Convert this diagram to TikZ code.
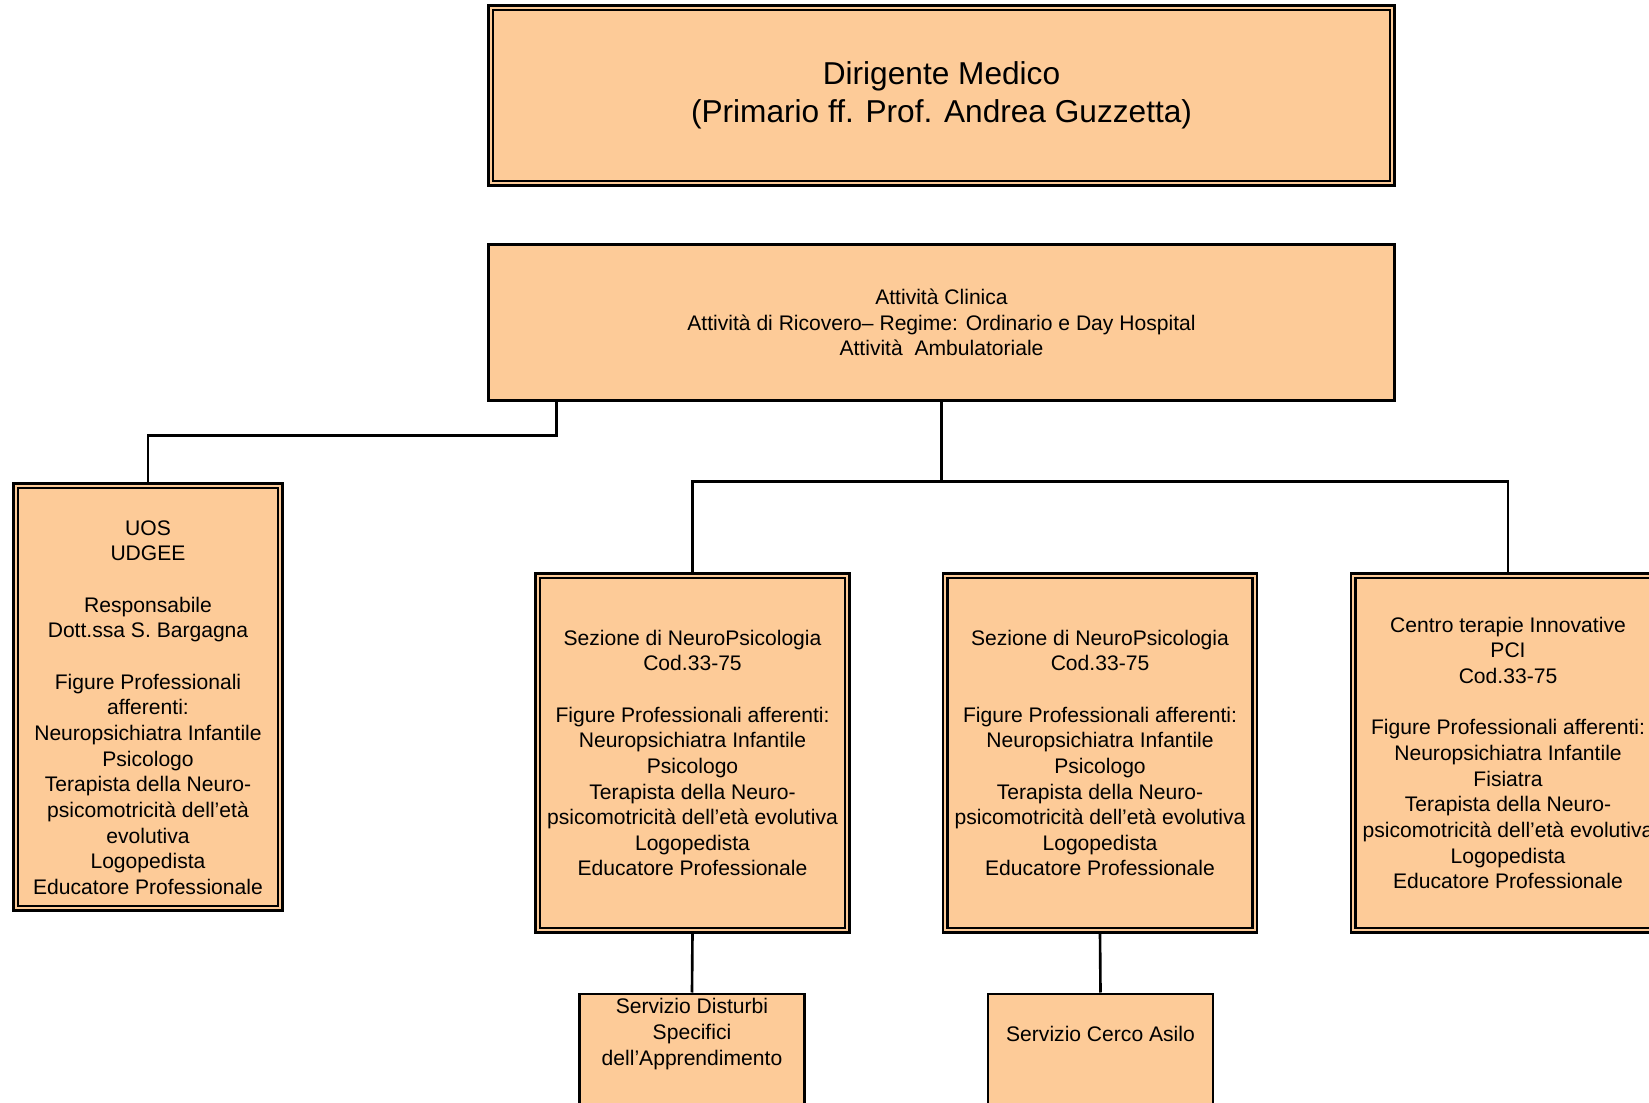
\documentclass[tikz,border=0pt]{standalone}
\usepackage{fontspec}
\setmainfont{Liberation Sans}
\usetikzlibrary{positioning}
\definecolor{peach}{RGB}{253,203,152}
\begin{document}
\begin{tikzpicture}[
    txt/.style={align=center, font=\fontsize{12}{14.6}\selectfont, inner sep=0pt},
    box/.style={draw, line width=1.6pt, fill=peach, inner sep=0pt},
    dbox/.style={draw, line width=1.5pt, double=peach, double distance=1.2pt, fill=peach, inner sep=0pt},
    link/.style={line width=1.5pt}
  ]
  \path[use as bounding box] (0, 0) rectangle (32.98, 22.04);
  \clip (0, 0) rectangle (32.98, 22.04);

  \node[dbox, minimum width=18.03cm, minimum height=3.51cm, align=center, font=\fontsize{18}{21.6}\selectfont] (dirigente) at (18.83, 20.13) {Dirigente Medico\\(Primario ff. Prof. Andrea Guzzetta)};
  \node[box, txt, minimum width=18.12cm, minimum height=3.12cm] (clinica) at (18.83, 15.59) {Attività Clinica\\Attività di Ricovero– Regime: Ordinario e Day Hospital\\Attività~ Ambulatoriale};

  \node[dbox, minimum width=5.29cm, minimum height=8.45cm] (uos) at (2.96, 8.10) {};
  \node[txt] (uos-txt) at (2.96, 7.89) {UOS\\UDGEE\\[14.6pt]Responsabile\\Dott.ssa S. Bargagna\\[14.6pt]Figure Professionali\\afferenti:\\Neuropsichiatra Infantile\\Psicologo\\Terapista della Neuro-\\psicomotricità dell’età\\evolutiva\\Logopedista\\Educatore Professionale};

  \node[dbox, txt, minimum width=6.19cm, minimum height=7.09cm] (sez-a) at (13.85, 6.98) {Sezione di NeuroPsicologia\\Cod.33-75\\[14.6pt]Figure Professionali afferenti:\\Neuropsichiatra Infantile\\Psicologo\\Terapista della Neuro-\\psicomotricità dell’età evolutiva\\Logopedista\\Educatore Professionale};
  \node[dbox, txt, minimum width=6.19cm, minimum height=7.09cm] (sez-b) at (22.00, 6.98) {Sezione di NeuroPsicologia\\Cod.33-75\\[14.6pt]Figure Professionali afferenti:\\Neuropsichiatra Infantile\\Psicologo\\Terapista della Neuro-\\psicomotricità dell’età evolutiva\\Logopedista\\Educatore Professionale};
  \node[dbox, txt, minimum width=6.19cm, minimum height=7.09cm] (centro) at (30.16, 6.98) {Centro terapie Innovative\\PCI\\Cod.33-75\\[14.6pt]Figure Professionali afferenti:\\Neuropsichiatra Infantile\\Fisiatra\\Terapista della Neuro-\\psicomotricità dell’età evolutiva\\Logopedista\\Educatore Professionale};

  \node[box, minimum width=4.5cm, minimum height=3cm, anchor=north] (dsa) at (13.84, 2.19) {};
  \node[txt] (dsa-txt) at (13.84, 1.36) {Servizio Disturbi\\Specifici\\dell’Apprendimento};
  \node[box, minimum width=4.5cm, minimum height=3cm, anchor=north] (asilo) at (22.01, 2.19) {};
  \node[txt] (asilo-txt) at (22.01, 1.36) {Servizio Cerco Asilo};

  \coordinate (uos-knee) at (11.13, 13.33);
  \coordinate (bus) at (18.83, 12.41);
  \draw[link] (clinica.south -| uos-knee) -- (uos-knee) -| (uos.north);
  \draw[link] (clinica.south) -- (bus);
  \draw[link] (sez-a.north) |- (bus) -| (centro.north);
  \draw[link] (sez-a.south) -- (dsa.north);
  \draw[link] (sez-b.south) -- (asilo.north);
\end{tikzpicture}
\end{document}
